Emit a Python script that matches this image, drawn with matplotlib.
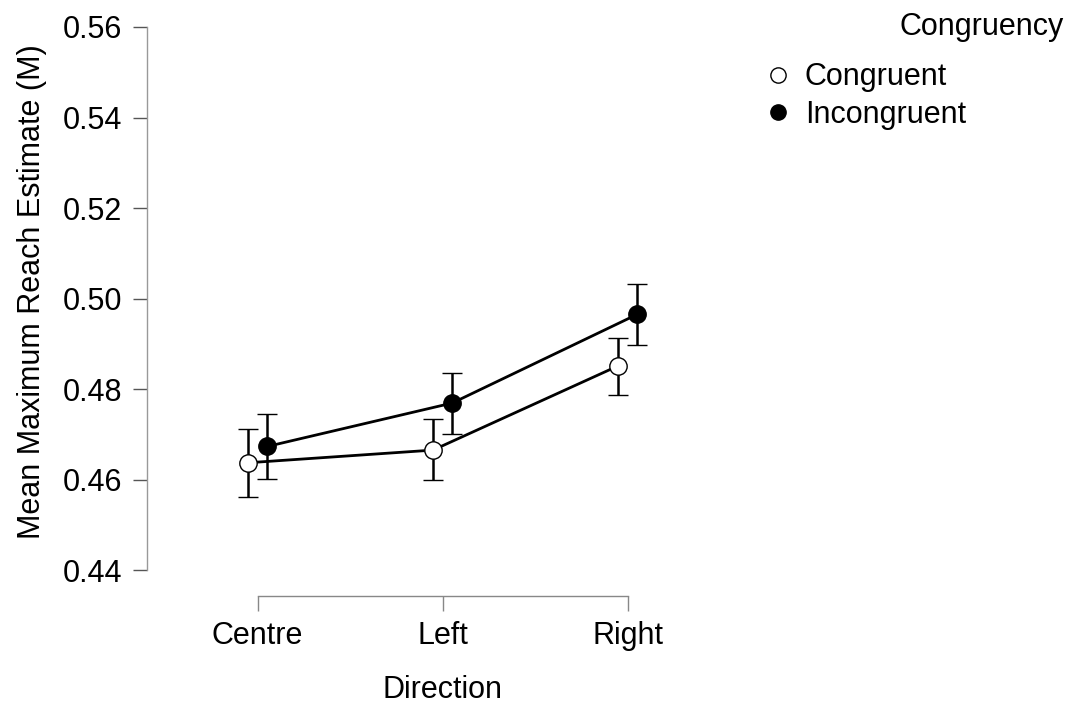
import matplotlib
matplotlib.use("Agg")
import matplotlib.pyplot as plt
import numpy as np

plt.rcParams["font.family"] = ["Liberation Sans", "DejaVu Sans"]

# 데이터
directions = ["Centre", "Left", "Right"]
congruent_mean = [0.4637, 0.4665, 0.4851]
congruent_lo = [0.4561, 0.4599, 0.4787]
congruent_hi = [0.4712, 0.4733, 0.4913]
incongruent_mean = [0.4673, 0.4769, 0.4965]
incongruent_lo = [0.4602, 0.4701, 0.4897]
incongruent_hi = [0.4744, 0.4836, 0.5031]
yticks = [0.44, 0.46, 0.48, 0.50, 0.52, 0.54, 0.56]

W, H = 1069, 704
FS = 22
fig = plt.figure(figsize=(W / 100, H / 100), dpi=100)

# 축 위치: 픽셀 기준 (y축 x=147, x축 y=596)
x0, x1 = -0.598, 2.6
ppu_y = 543 / 0.12
y_top_px = 10
y_bot = 0.44 - (596 - 570) / ppu_y
y_top = 0.56 + (27 - y_top_px) / ppu_y
left_px, right_px = 147, 147 + (x1 - x0) * 185
ax = fig.add_axes([left_px / W, (H - 596) / H, (right_px - left_px) / W, (596 - y_top_px) / H])
ax.set_xlim(x0, x1)
ax.set_ylim(y_bot, y_top)

xs = np.arange(len(directions))
dodge = 0.052

def _draw(offset, mean, lo, hi, face, label):
    m = np.array(mean)
    err = [m - np.array(lo), np.array(hi) - m]
    ax.errorbar(xs + offset, m, yerr=err, color="black", lw=2.0, elinewidth=1.8,
                capsize=7, capthick=1.8, marker="o", markersize=12.5,
                markerfacecolor=face, markeredgecolor="black", markeredgewidth=1.0,
                label=label, zorder=3)

_draw(-dodge, congruent_mean, congruent_lo, congruent_hi, "white", "Congruent")
_draw(dodge, incongruent_mean, incongruent_lo, incongruent_hi, "black", "Incongruent")

# 축 스타일 (JASP 느낌)
for s in ("top", "right"):
    ax.spines[s].set_visible(False)
ax.spines["left"].set_bounds(0.44, 0.56)
ax.spines["bottom"].set_bounds(0, 2)
ax.spines["left"].set_color("#999999")
ax.spines["bottom"].set_color("#888888")
ax.spines["left"].set_linewidth(1.0)
ax.spines["bottom"].set_linewidth(1.0)

ax.set_yticks(yticks)
ax.set_yticklabels([f"{v:.2f}" for v in yticks])
ax.set_xticks(xs)
ax.set_xticklabels(directions)
ax.tick_params(axis="y", length=10, width=1.0, color="#555555", labelsize=FS, pad=8)
ax.tick_params(axis="x", length=11, width=1.0, color="#888888", labelsize=FS, pad=7)

ax.set_xlabel("Direction", fontsize=FS, labelpad=17)
fig.text(32 / W, 1 - 292 / H, "Mean Maximum Reach Estimate (M)", rotation=90,
         fontsize=FS, ha="center", va="center")

# 범례
fig.text(1064 / W, 1 - 27 / H, "Congruency", fontsize=FS, ha="right", va="center")
h_c = plt.Line2D([0], [0], marker="o", color="none", markerfacecolor="white",
                 markeredgecolor="black", markersize=11, markeredgewidth=1.0)
h_i = plt.Line2D([0], [0], marker="o", color="none", markerfacecolor="black",
                 markeredgecolor="black", markersize=11, markeredgewidth=1.0)
fig.legend([h_c, h_i], ["Congruent", "Incongruent"], loc="upper left",
           bbox_to_anchor=(750 / W, 1 - 47 / H), frameon=False, fontsize=FS,
           handlelength=0.8, handletextpad=0.5, labelspacing=0.25, borderpad=0)

fig.savefig("out.png", dpi=100)
